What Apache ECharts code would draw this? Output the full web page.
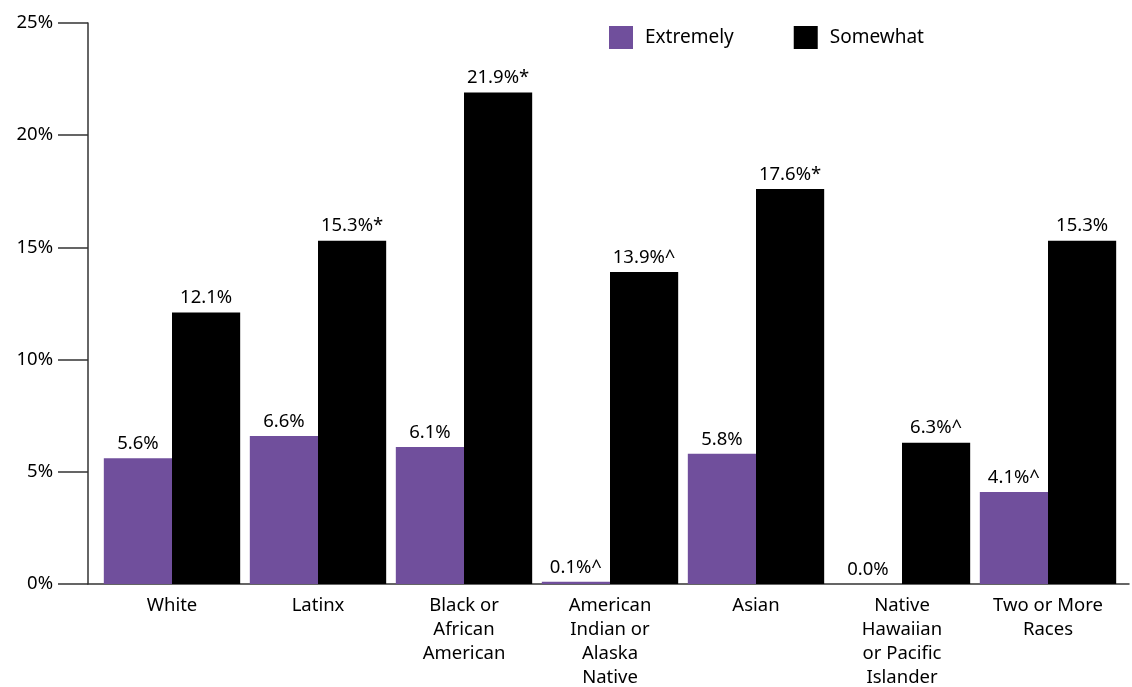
<!DOCTYPE html>
<html>
<head>
<meta charset="utf-8">
<script src="https://cdn.jsdelivr.net/npm/echarts@6/dist/echarts.min.js"></script>
<style>
  html, body { margin: 0; padding: 0; background: #fff; }
  #chart { width: 1132px; height: 687px; }
</style>
</head>
<body>
<div id="chart"></div>
<script>
// Groups shown along the horizontal axis
const categories = [
  'White',
  'Latinx',
  'Black or\nAfrican\nAmerican',
  'American\nIndian or\nAlaska\nNative',
  'Asian',
  'Native\nHawaiian\nor Pacific\nIslander',
  'Two or More\nRaces'
];

// Percent values per group
const extremelyValues = [5.6, 6.6, 6.1, 0.1, 5.8, 0.0, 4.1];
const somewhatValues = [12.1, 15.3, 21.9, 13.9, 17.6, 6.3, 15.3];

// Footnote markers appended to the value labels
const extremelyMarks = ['', '', '', '^', '', '', '^'];
const somewhatMarks = ['', '*', '*', '^', '*', '^', ''];

// Value axis range
const yMin = 0;
const yMax = 25;
const yStep = 5;

const FONT = '"Noto Sans", "Open Sans", sans-serif';
const FS = 18.5;
const PURPLE = '#704f9c';
const AXIS = '#333333';

const chart = echarts.init(document.getElementById('chart'), null, { renderer: 'canvas' });

function labelFor(marks) {
  return {
    show: true,
    position: 'top',
    distance: 5,
    color: '#000',
    fontFamily: FONT,
    fontSize: FS,
    formatter: p => p.value.toFixed(1) + '%' + marks[p.dataIndex]
  };
}

chart.setOption({
  animation: false,
  backgroundColor: '#fff',
  textStyle: { fontFamily: FONT },
  legend: {
    left: 609,
    top: 26,
    padding: 0,
    icon: 'rect',
    itemWidth: 24,
    itemHeight: 23,
    itemGap: 60,
    textStyle: { fontFamily: FONT, fontSize: 19, color: '#000', padding: [0, 0, 0, 7] },
    data: ['Extremely', 'Somewhat']
  },
  grid: [
    // bars
    { left: 99, right: 11, top: 23, bottom: 103, containLabel: false, outerBoundsMode: 'none' },
    // frame: value axis and base line
    { left: 88, right: 3, top: 23, bottom: 103, containLabel: false, outerBoundsMode: 'none' }
  ],
  xAxis: [
    {
      gridIndex: 0,
      type: 'category',
      data: categories,
      axisLine: { show: false },
      axisTick: { show: false },
      axisLabel: {
        interval: 0,
        margin: 10,
        color: '#000',
        fontFamily: FONT,
        fontSize: FS,
        lineHeight: 24
      }
    },
    {
      gridIndex: 1,
      type: 'value',
      min: 0,
      max: 1,
      axisLine: { show: true, lineStyle: { color: AXIS, width: 1.5 } },
      axisTick: { show: false },
      axisLabel: { show: false },
      splitLine: { show: false }
    }
  ],
  yAxis: [
    {
      gridIndex: 0,
      type: 'value',
      min: yMin,
      max: yMax,
      interval: yStep,
      show: false
    },
    {
      gridIndex: 1,
      type: 'value',
      min: yMin,
      max: yMax,
      interval: yStep,
      axisLine: { show: true, lineStyle: { color: AXIS, width: 1.5 } },
      axisTick: { show: true, length: 30, lineStyle: { color: AXIS, width: 1.5 } },
      axisLabel: {
        margin: 35,
        color: '#000',
        fontFamily: FONT,
        fontSize: FS,
        formatter: '{value}%'
      },
      splitLine: { show: false }
    }
  ],
  series: [
    {
      name: 'Extremely',
      type: 'bar',
      xAxisIndex: 0,
      yAxisIndex: 0,
      data: extremelyValues,
      barGap: '0%',
      barCategoryGap: '6.6%',
      itemStyle: { color: PURPLE },
      label: labelFor(extremelyMarks)
    },
    {
      name: 'Somewhat',
      type: 'bar',
      xAxisIndex: 0,
      yAxisIndex: 0,
      data: somewhatValues,
      barGap: '0%',
      barCategoryGap: '6.6%',
      itemStyle: { color: '#000' },
      label: labelFor(somewhatMarks)
    }
  ]
});
</script>
</body>
</html>
